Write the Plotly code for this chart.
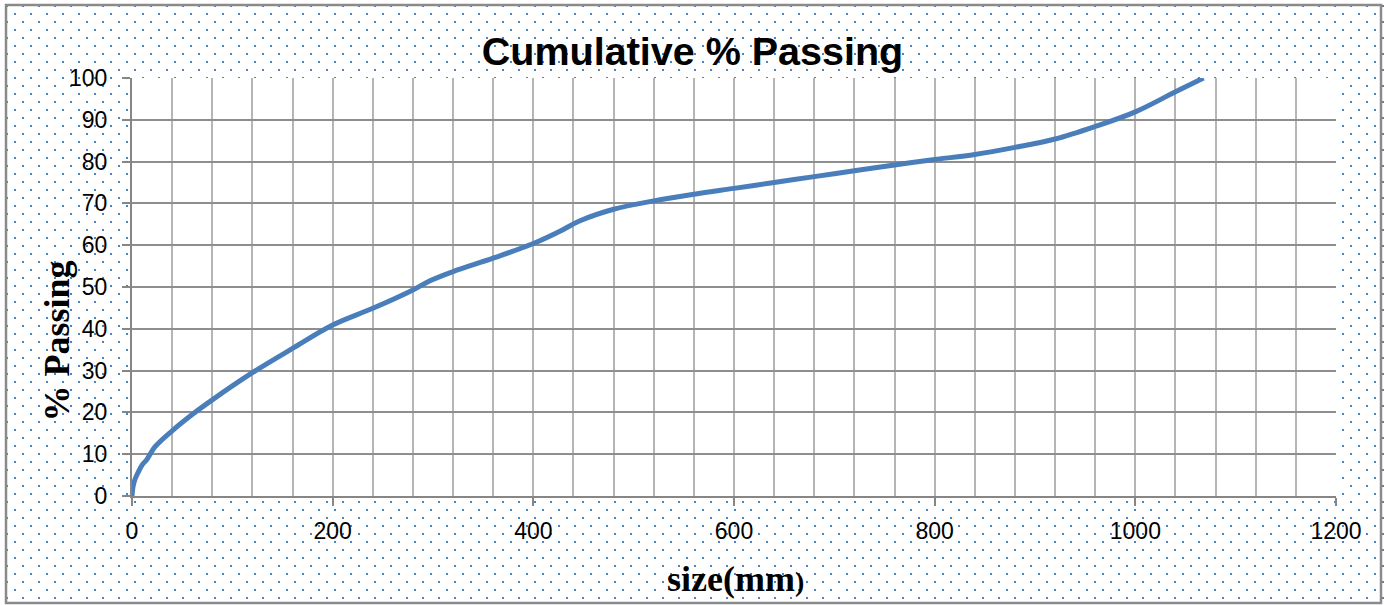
import base64
import plotly.graph_objects as go

# ---- data ----
size_mm = [0, 1, 3, 6, 10, 15, 23, 40, 60, 80, 120, 160, 200, 240, 280, 297, 320,
           360, 400, 427, 446, 480, 520, 560, 600, 640, 680, 720, 760, 800, 840,
           880, 920, 960, 1000, 1040, 1068]
pct_passing = [0, 2.2, 4.0, 5.6, 7.4, 8.8, 11.8, 15.6, 19.5, 23.0, 29.5, 35.3, 40.9,
               44.9, 49.3, 51.5, 53.7, 56.9, 60.4, 63.4, 65.8, 68.6, 70.6, 72.2,
               73.6, 75.0, 76.4, 77.8, 79.2, 80.5, 81.7, 83.4, 85.4, 88.4, 91.9,
               96.7, 100]

title_text = "Cumulative % Passing"
x_title = "size(mm<span style='font-size:28px'>)</span>"
y_title = "% Passing"

W, H = 1385, 605
ML, MR, MT, MB = 132, 49, 78, 109
PW, PH = W - ML - MR, H - MT - MB

# dotted background + outer border as an SVG pattern
svg = f"""<svg xmlns='http://www.w3.org/2000/svg' width='{W}' height='{H}' viewBox='0 0 {W} {H}'>
<defs><pattern id='p' x='0' y='0' width='16' height='16' patternUnits='userSpaceOnUse'>
<rect x='14' y='13' width='2' height='2' fill='#4f81bd'/>
<rect x='6' y='5' width='2' height='2' fill='#4f81bd'/>
</pattern></defs>
<rect x='0' y='0' width='{W}' height='{H}' fill='white'/>
<rect x='0' y='0' width='{W}' height='{H}' fill='url(#p)'/>
<rect x='6' y='5' width='{1381-6}' height='{603-5}' fill='none' stroke='#8a8a8a' stroke-width='2.5'/>
</svg>"""
src = "data:image/svg+xml;base64," + base64.b64encode(svg.encode()).decode()

fig = go.Figure()
fig.add_trace(go.Scatter(
    x=size_mm, y=pct_passing, mode="lines",
    line=dict(color="#4a7ebb", width=5, shape="spline", smoothing=1.0),
    showlegend=False, hoverinfo="skip",
))

fig.update_layout(
    width=W, height=H,
    margin=dict(l=ML, r=MR, t=MT, b=MB, pad=0),
    paper_bgcolor="white", plot_bgcolor="white",
    images=[dict(source=src, xref="paper", yref="paper",
                 x=-ML / PW, y=1 + MT / PH, sizex=W / PW, sizey=H / PH,
                 xanchor="left", yanchor="top", sizing="stretch", layer="below")],
    shapes=[dict(type="rect", xref="paper", yref="paper", x0=0, x1=1, y0=0, y1=1,
                 fillcolor="white", line=dict(width=0), layer="below")],
    title=dict(text=f"<b>{title_text}</b>", x=0.5, xref="container", xanchor="center",
               y=1 - 51 / H, yref="container", yanchor="middle",
               font=dict(family="Liberation Sans", size=39.5, color="black")),
    xaxis=dict(range=[0, 1200], tick0=0, dtick=200, ticks="outside", ticklen=8,
               tickwidth=1.5, tickcolor="#868686", showline=True, linecolor="#868686",
               linewidth=2, showgrid=True, gridcolor="#b5b5b5", gridwidth=1.6,
               zeroline=False, ticklabelstandoff=5,
               tickfont=dict(family="Liberation Sans", size=23, color="black"),
               minor=dict(dtick=40, tick0=0, showgrid=True, gridcolor="#b5b5b5",
                          gridwidth=1.6, ticks="")),
    yaxis=dict(range=[0, 100], tick0=0, dtick=10, ticks="outside", ticklen=8,
               tickwidth=1.5, tickcolor="#868686", showline=True, linecolor="#868686",
               linewidth=2, showgrid=True, gridcolor="#8e8e8e", gridwidth=1.5,
               zeroline=False, ticklabelstandoff=10,
               tickfont=dict(family="Liberation Sans", size=23, color="black")),
    annotations=[
        dict(text=f"<b>{x_title}</b>", xref="paper", yref="paper",
             x=(735 - ML) / PW, y=(496 - 579) / PH, xanchor="center", yanchor="middle",
             showarrow=False, font=dict(family="Liberation Serif", size=36, color="black")),
        dict(text=f"<b>{y_title}</b>", xref="paper", yref="paper", textangle=-90,
             x=(57 - ML) / PW, y=(496 - 341.5) / PH, xanchor="center", yanchor="middle",
             showarrow=False, font=dict(family="Liberation Serif", size=36, color="black")),
    ],
)

fig.write_html("out.html")
